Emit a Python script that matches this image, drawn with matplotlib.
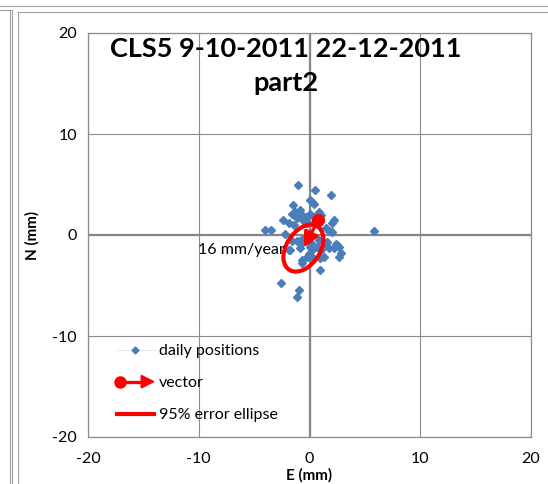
import matplotlib
matplotlib.use("Agg")
import matplotlib.pyplot as plt
from matplotlib.lines import Line2D
from matplotlib.patches import Ellipse, Polygon
from matplotlib.legend_handler import HandlerBase

plt.rcParams['font.family'] = ['Lato', 'DejaVu Sans']
plt.rcParams['axes.unicode_minus'] = False

# ---- data ----
east = [-1.03, 0.47, 1.96, 0.09, 0.24, 0.40, -1.50, -1.57, -1.27, -0.90, -0.66, -0.36,
        -0.81, -1.17, -2.40, 0.03, 0.39, 0.84, 1.00, 2.22, 2.05, -3.98, -3.46, -1.87,
        -0.21, -1.42, 1.75, 2.05, 1.45, 5.85, -2.17, 0.50, -0.50,
        -1.10, -0.80, -1.57, -0.81, 0.84, 1.60, 2.35, 2.65, 2.50, 2.20, 2.80, 2.65,
        1.75, 1.45, 0.69, 1.00, -1.72, -1.87, -0.06, 0.24, -0.21, 0.10, 0.00, 0.30,
        0.99, 1.30, 0.99, -0.72, -0.66, -2.56, -0.96, -1.17, -0.40, -0.90]
north = [5.00, 4.50, 4.00, 3.50, 3.30, 3.10, 3.00, 2.05, 2.30, 2.45, 1.98, 1.82,
         1.65, 1.72, 1.50, 2.05, 1.82, 2.30, 1.95, 1.50, 1.16, 0.50, 0.50, 1.16,
         1.16, 1.00, 0.40, 0.30, 0.66, 0.40, 0.10, 1.30, 1.40,
         -0.55, -0.85, -0.60, -0.50, -0.50, -0.70, -0.86, -1.19, -1.00, -1.32, -1.82, -2.15,
         -1.32, -1.00, -1.16, -1.50, -1.52, -1.49, -1.85, -1.52, -2.18, -0.80, -1.20, -2.30,
         -2.30, -2.15, -3.50, -2.48, -2.80, -4.72, -5.45, -6.10, -0.30, -1.30]

vector_start = (0.78, 1.48)
vector_end = (-0.51, -1.25)
vector_label = "16 mm/year"
label_pos = (-10.1, -1.45)

ellipse_center = (-0.55, -1.3)
ellipse_width = 5.0     # major axis (mm)
ellipse_height = 3.1    # minor axis (mm)
ellipse_angle = 62      # degrees

title = "CLS5 9-10-2011 22-12-2011\npart2"
xlabel = "E (mm)"
ylabel = "N (mm)"
ticks = [-20, -10, 0, 10, 20]
series_names = ["daily positions", "vector", "95% error ellipse"]

# ---- figure ----
W, H = 548, 484
fig = plt.figure(figsize=(W / 100, H / 100), dpi=100)

def fx(px):
    return px / W

def fy(py):
    return 1 - py / H

# surrounding document frame lines
frame_col = '#a0a0a0'
fig.add_artist(Line2D([0, 1], [fy(6), fy(6)], color=frame_col, lw=0.8))
fig.add_artist(Line2D([fx(18), 1], [fy(12), fy(12)], color=frame_col, lw=0.8))
fig.add_artist(Line2D([fx(18), fx(18)], [fy(12), 0], color=frame_col, lw=0.8))
fig.add_artist(Line2D([0, fx(12)], [fy(10), fy(10)], color=frame_col, lw=0.8))
fig.add_artist(Line2D([fx(10), fx(10)], [fy(10), 0], color=frame_col, lw=0.8))
fig.add_artist(Line2D([fx(12), fx(12)], [fy(10), 0], color=frame_col, lw=0.8))

left, right, top, bottom = 88, 531, 33, 437
ax = fig.add_axes([fx(left), fy(bottom), fx(right) - fx(left), fy(top) - fy(bottom)])
ax.set_xlim(-20, 20)
ax.set_ylim(-20, 20)
ax.set_xticks(ticks)
ax.set_yticks(ticks)
ax.tick_params(length=0, labelsize=11.5, colors='black')
ax.tick_params(axis='x', pad=11)
ax.tick_params(axis='y', pad=8)
ax.grid(True, color='#8c8c8c', lw=0.8)
ax.set_axisbelow(True)
for s in ax.spines.values():
    s.set_color('#8c8c8c')
    s.set_linewidth(0.9)
ax.axhline(0, color='#868686', lw=1.6, zorder=1)
ax.axvline(0, color='#868686', lw=1.6, zorder=1)

ax.set_xlabel(xlabel, fontsize=11, fontweight='bold', labelpad=1)
ax.set_ylabel(ylabel, fontsize=11, fontweight='bold', labelpad=9)

blue = '#4a7ebb'
red = '#ff0000'
ax.plot(east, north, linestyle='none', marker='D', ms=3.8, color=blue, zorder=3)

ell = Ellipse(ellipse_center, ellipse_width, ellipse_height, angle=ellipse_angle,
              fill=False, edgecolor=red, lw=3, zorder=4)
ax.add_patch(ell)

ax.plot([vector_start[0]], [vector_start[1]], marker='o', ms=8.5, color=red, zorder=5)
ax.annotate('', xy=vector_end, xytext=vector_start,
            arrowprops=dict(arrowstyle='-|>,head_length=0.9,head_width=0.45',
                            color=red, lw=2.4, shrinkA=0, shrinkB=0), zorder=5)
ax.text(label_pos[0], label_pos[1], vector_label, fontsize=11.5, ha='left', va='center', zorder=6)

fig.text(fx(286), fy(66), title, ha='center', va='center', fontsize=19.5,
         fontweight='bold', linespacing=1.5)


class VectorHandler(HandlerBase):
    def create_artists(self, legend, orig_handle, xdescent, ydescent, width, height,
                       fontsize, trans):
        y = height / 2 - ydescent
        line = Line2D([-xdescent + 2, width - xdescent - 6], [y, y], color=red, lw=2.4,
                      transform=trans)
        dot = Line2D([-xdescent + 2], [y], marker='o', ms=8, color=red, transform=trans)
        tip = width - xdescent
        tri = Polygon([[tip - 9, y + 4.5], [tip, y], [tip - 9, y - 4.5]], closed=True,
                      color=red, transform=trans)
        return [line, dot, tri]


h1 = Line2D([], [], color='#dbe5f1', lw=0.8, marker='D', ms=3.5, mfc=blue, mec=blue)
h2 = Line2D([], [])
h3 = Line2D([], [], color=red, lw=3)
leg = ax.legend([h1, h2, h3], series_names, loc='upper left',
                bbox_to_anchor=(fx(117), fy(344)), bbox_transform=fig.transFigure,
                frameon=False, fontsize=11.5, handlelength=2.3, handletextpad=0.3,
                labelspacing=1.12, borderpad=0, borderaxespad=0,
                handler_map={h2: VectorHandler()})

fig.savefig('out.png', dpi=100)
